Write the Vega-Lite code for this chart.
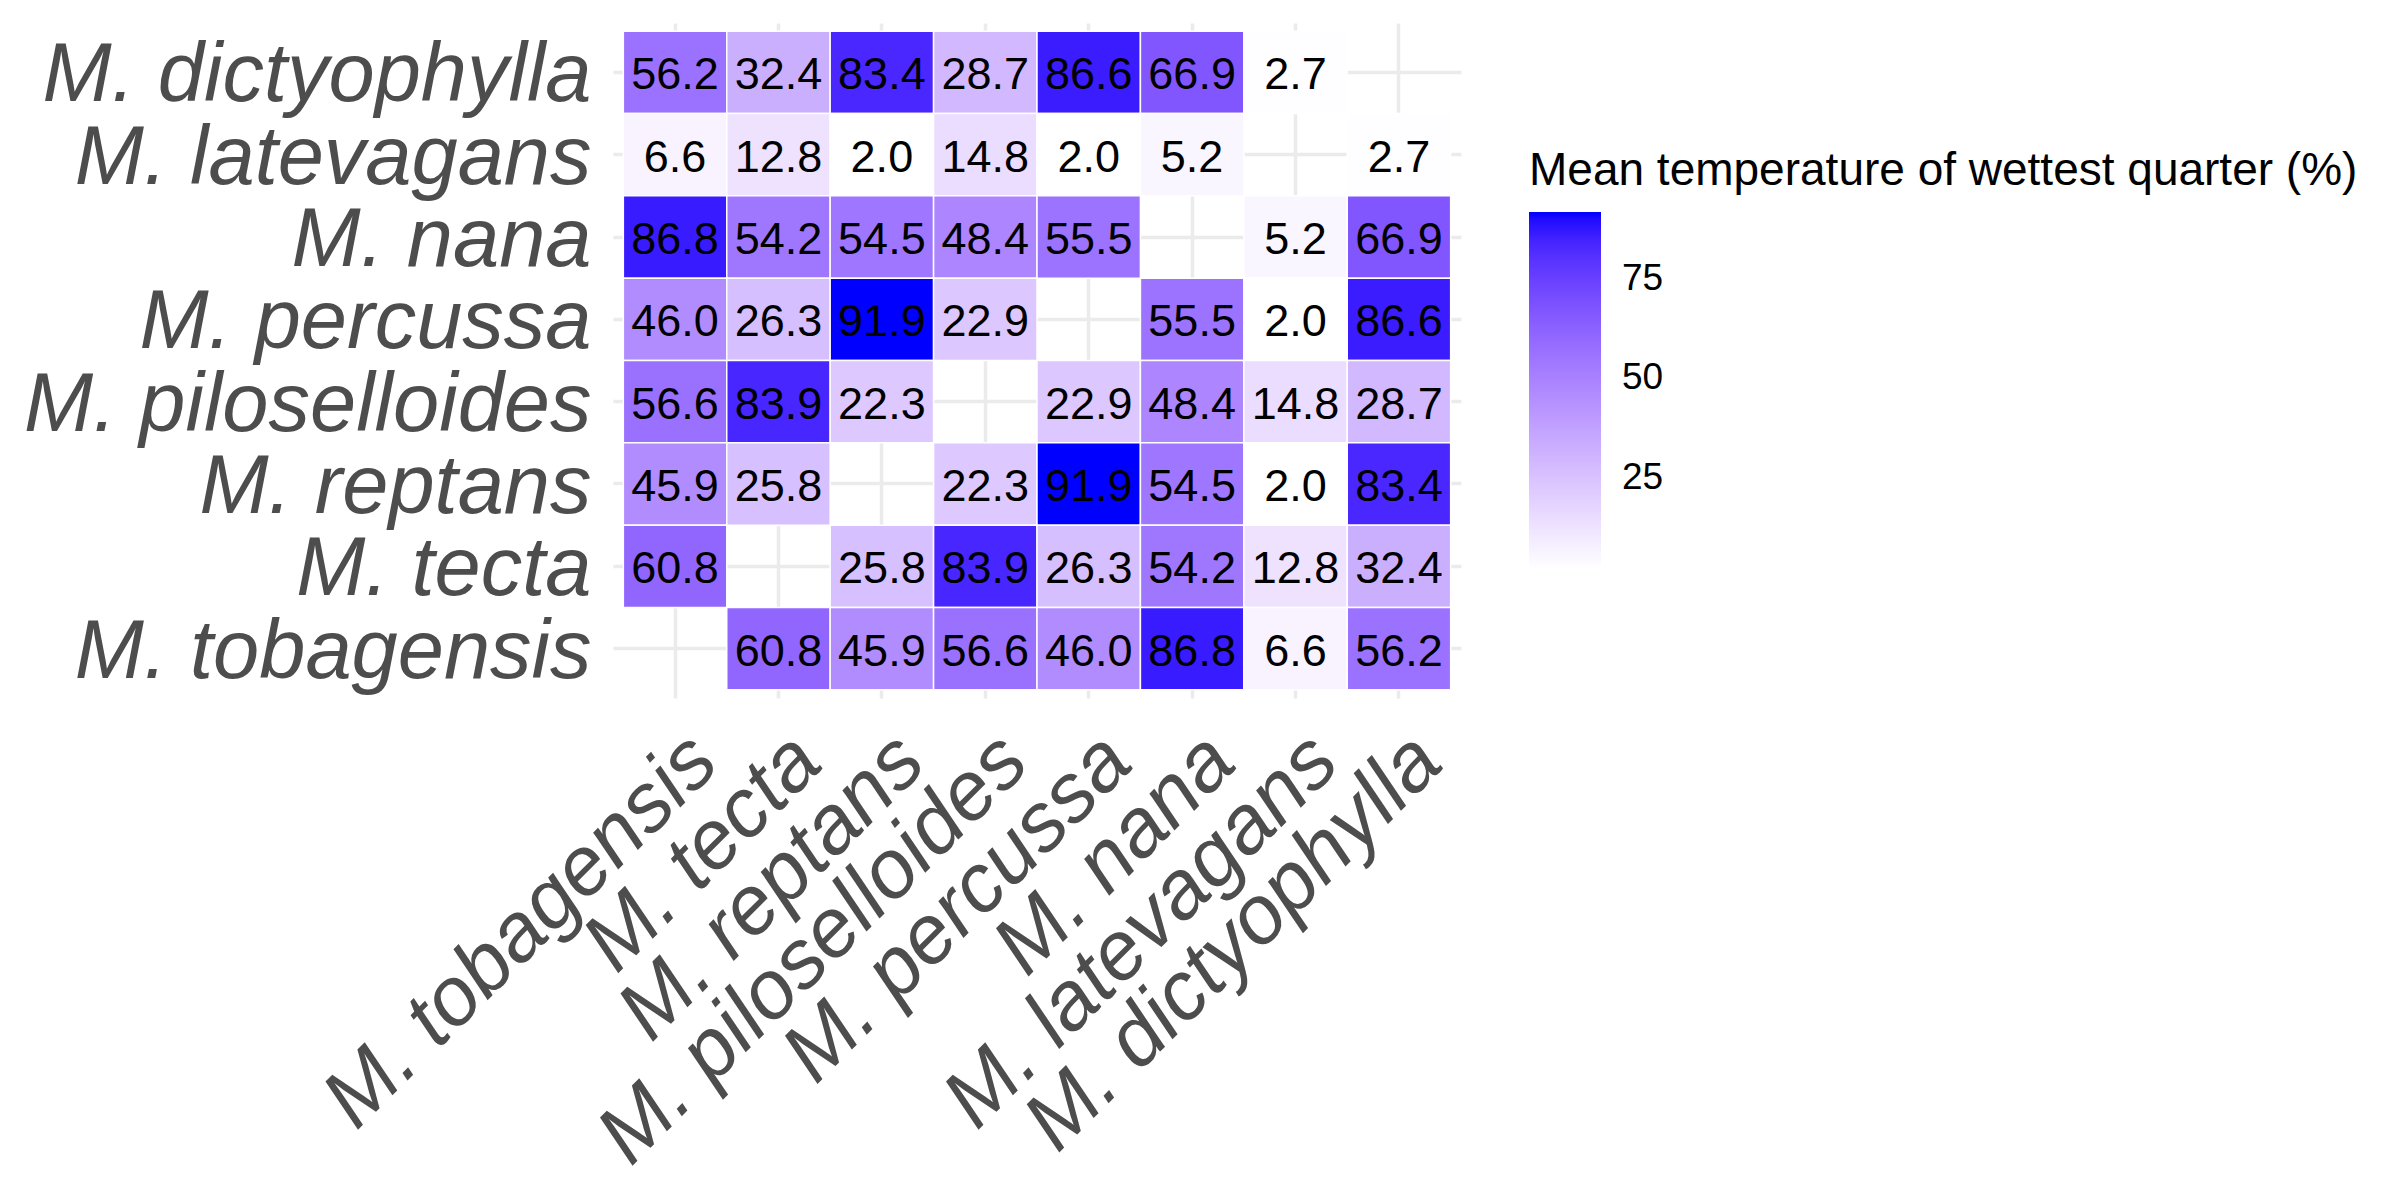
{
  "$schema": "https://vega.github.io/schema/vega-lite/v6.json",
  "width": 848,
  "height": 675,
  "autosize": {"type": "none"},
  "padding": {"left": 613, "top": 23, "right": 939, "bottom": 502},
  "background": "white",
  "config": {
    "view": {"stroke": null},
    "font": "Liberation Sans"
  },
  "data": {
    "values": [
      {"row": "M. dictyophylla", "col": "M. tobagensis", "value": 56.2},
      {"row": "M. dictyophylla", "col": "M. tecta", "value": 32.4},
      {"row": "M. dictyophylla", "col": "M. reptans", "value": 83.4},
      {"row": "M. dictyophylla", "col": "M. piloselloides", "value": 28.7},
      {"row": "M. dictyophylla", "col": "M. percussa", "value": 86.6},
      {"row": "M. dictyophylla", "col": "M. nana", "value": 66.9},
      {"row": "M. dictyophylla", "col": "M. latevagans", "value": 2.7},
      {"row": "M. latevagans", "col": "M. tobagensis", "value": 6.6},
      {"row": "M. latevagans", "col": "M. tecta", "value": 12.8},
      {"row": "M. latevagans", "col": "M. reptans", "value": 2.0},
      {"row": "M. latevagans", "col": "M. piloselloides", "value": 14.8},
      {"row": "M. latevagans", "col": "M. percussa", "value": 2.0},
      {"row": "M. latevagans", "col": "M. nana", "value": 5.2},
      {"row": "M. latevagans", "col": "M. dictyophylla", "value": 2.7},
      {"row": "M. nana", "col": "M. tobagensis", "value": 86.8},
      {"row": "M. nana", "col": "M. tecta", "value": 54.2},
      {"row": "M. nana", "col": "M. reptans", "value": 54.5},
      {"row": "M. nana", "col": "M. piloselloides", "value": 48.4},
      {"row": "M. nana", "col": "M. percussa", "value": 55.5},
      {"row": "M. nana", "col": "M. latevagans", "value": 5.2},
      {"row": "M. nana", "col": "M. dictyophylla", "value": 66.9},
      {"row": "M. percussa", "col": "M. tobagensis", "value": 46.0},
      {"row": "M. percussa", "col": "M. tecta", "value": 26.3},
      {"row": "M. percussa", "col": "M. reptans", "value": 91.9},
      {"row": "M. percussa", "col": "M. piloselloides", "value": 22.9},
      {"row": "M. percussa", "col": "M. nana", "value": 55.5},
      {"row": "M. percussa", "col": "M. latevagans", "value": 2.0},
      {"row": "M. percussa", "col": "M. dictyophylla", "value": 86.6},
      {"row": "M. piloselloides", "col": "M. tobagensis", "value": 56.6},
      {"row": "M. piloselloides", "col": "M. tecta", "value": 83.9},
      {"row": "M. piloselloides", "col": "M. reptans", "value": 22.3},
      {"row": "M. piloselloides", "col": "M. percussa", "value": 22.9},
      {"row": "M. piloselloides", "col": "M. nana", "value": 48.4},
      {"row": "M. piloselloides", "col": "M. latevagans", "value": 14.8},
      {"row": "M. piloselloides", "col": "M. dictyophylla", "value": 28.7},
      {"row": "M. reptans", "col": "M. tobagensis", "value": 45.9},
      {"row": "M. reptans", "col": "M. tecta", "value": 25.8},
      {"row": "M. reptans", "col": "M. piloselloides", "value": 22.3},
      {"row": "M. reptans", "col": "M. percussa", "value": 91.9},
      {"row": "M. reptans", "col": "M. nana", "value": 54.5},
      {"row": "M. reptans", "col": "M. latevagans", "value": 2.0},
      {"row": "M. reptans", "col": "M. dictyophylla", "value": 83.4},
      {"row": "M. tecta", "col": "M. tobagensis", "value": 60.8},
      {"row": "M. tecta", "col": "M. reptans", "value": 25.8},
      {"row": "M. tecta", "col": "M. piloselloides", "value": 83.9},
      {"row": "M. tecta", "col": "M. percussa", "value": 26.3},
      {"row": "M. tecta", "col": "M. nana", "value": 54.2},
      {"row": "M. tecta", "col": "M. latevagans", "value": 12.8},
      {"row": "M. tecta", "col": "M. dictyophylla", "value": 32.4},
      {"row": "M. tobagensis", "col": "M. tecta", "value": 60.8},
      {"row": "M. tobagensis", "col": "M. reptans", "value": 45.9},
      {"row": "M. tobagensis", "col": "M. piloselloides", "value": 56.6},
      {"row": "M. tobagensis", "col": "M. percussa", "value": 46.0},
      {"row": "M. tobagensis", "col": "M. nana", "value": 86.8},
      {"row": "M. tobagensis", "col": "M. latevagans", "value": 6.6},
      {"row": "M. tobagensis", "col": "M. dictyophylla", "value": 56.2}
    ]
  },
  "encoding": {
    "x": {
      "field": "col",
      "type": "nominal",
      "sort": ["M. tobagensis", "M. tecta", "M. reptans", "M. piloselloides", "M. percussa", "M. nana", "M. latevagans", "M. dictyophylla"],
      "scale": {
        "domain": ["M. tobagensis", "M. tecta", "M. reptans", "M. piloselloides", "M. percussa", "M. nana", "M. latevagans", "M. dictyophylla"],
        "paddingInner": 0, "paddingOuter": 0.1
      },
      "axis": {
        "title": null,
        "zindex": 0,
        "domain": false,
        "ticks": false,
        "grid": true,
        "gridColor": "#EBEBEB",
        "gridWidth": 3.5,
        "bandPosition": 0.5,
        "labelAngle": -45,
        "labelAlign": "right",
        "labelBaseline": "top",
        "labelPadding": 21,
        "labelFontSize": 83,
        "labelFontStyle": "italic",
        "labelFont": "Liberation Sans",
        "labelColor": "#4D4D4D",
        "labelLimit": 2000,
        "labelOverlap": false
      }
    },
    "y": {
      "field": "row",
      "type": "nominal",
      "sort": ["M. dictyophylla", "M. latevagans", "M. nana", "M. percussa", "M. piloselloides", "M. reptans", "M. tecta", "M. tobagensis"],
      "scale": {
        "domain": ["M. dictyophylla", "M. latevagans", "M. nana", "M. percussa", "M. piloselloides", "M. reptans", "M. tecta", "M. tobagensis"],
        "paddingInner": 0, "paddingOuter": 0.1
      },
      "axis": {
        "title": null,
        "zindex": 0,
        "domain": false,
        "ticks": false,
        "grid": true,
        "gridColor": "#EBEBEB",
        "gridWidth": 3.5,
        "bandPosition": 0.5,
        "labelAlign": "right",
        "labelBaseline": "middle",
        "labelOffset": 4,
        "labelPadding": 22,
        "labelFontSize": 83,
        "labelFontStyle": "italic",
        "labelFont": "Liberation Sans",
        "labelColor": "#4D4D4D",
        "labelLimit": 2000,
        "labelOverlap": false
      }
    }
  },
  "layer": [
    {
      "mark": {"type": "rect", "stroke": "white", "strokeWidth": 1.5},
      "encoding": {
        "color": {
          "field": "value",
          "type": "quantitative",
          "scale": {"range": ["#FFFFFF", "#0000FF"], "interpolate": "lab", "zero": false, "nice": false},
          "legend": {
            "title": "Mean temperature of wettest quarter (%)",
            "orient": "none",
            "legendX": 916,
            "legendY": 126,
            "direction": "vertical",
            "gradientLength": 357,
            "gradientThickness": 72,
            "gradientStrokeWidth": 0,
            "padding": 0,
            "titleFont": "Liberation Sans",
            "titleFontSize": 46,
            "titleFontWeight": "normal",
            "titleColor": "#000000",
            "titleLimit": 1500,
            "titlePadding": 17,
            "labelFont": "Liberation Sans",
            "labelFontSize": 37,
            "labelColor": "#000000",
            "labelOffset": 21,
            "values": [25, 50, 75]
          }
        }
      }
    },
    {
      "mark": {"type": "text", "font": "Liberation Sans", "fontSize": 45, "color": "#000000", "baseline": "middle", "dy": 3},
      "encoding": {
        "text": {"field": "value", "type": "quantitative", "format": ".1f"}
      }
    }
  ]
}
